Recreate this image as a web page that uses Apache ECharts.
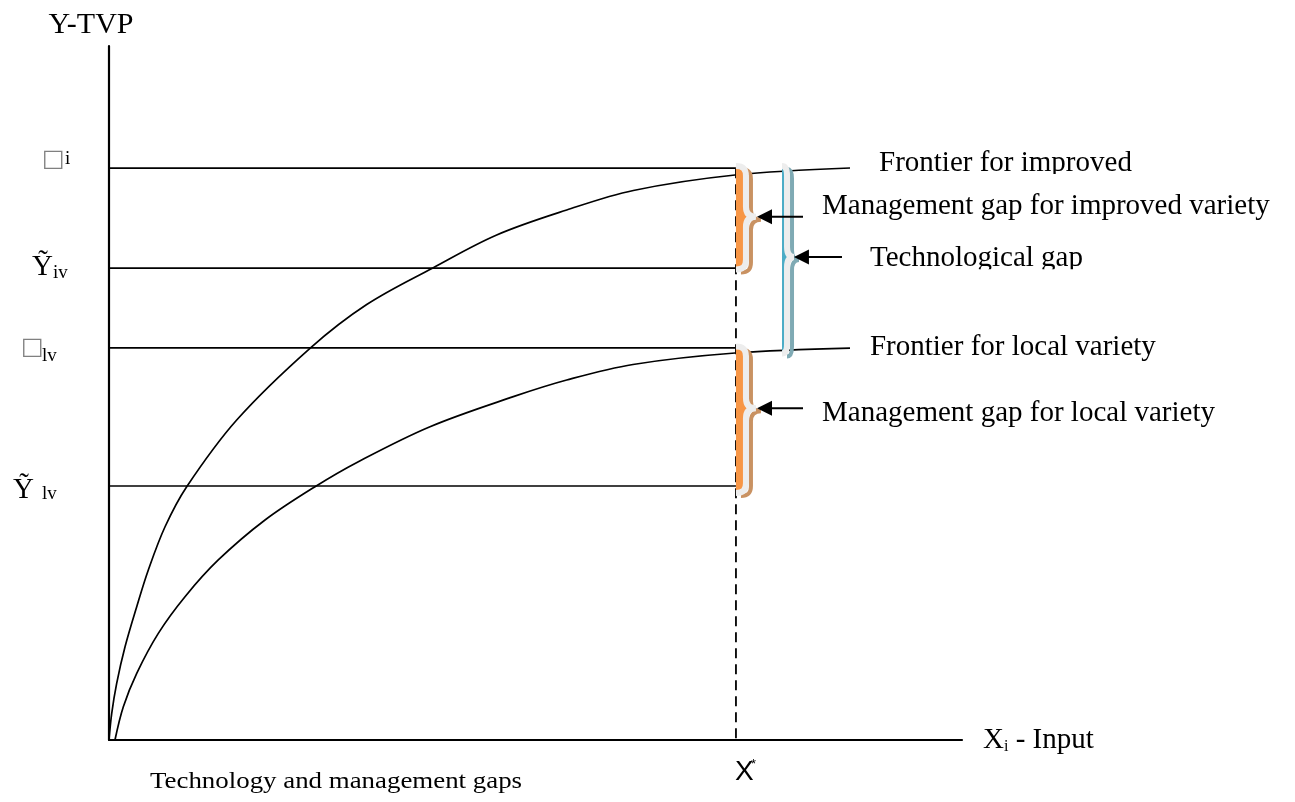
<!DOCTYPE html>
<html><head><meta charset="utf-8">
<script src="https://cdn.jsdelivr.net/npm/echarts@6/dist/echarts.min.js"></script>
<style>html,body{margin:0;padding:0;background:#fff}#c{width:1295px;height:802px}</style>
</head><body><div id="c"></div>
<script>
// ---- data (axis units: x 0..100, y 0..100) ----
const improvedX = [0, 0.32, 0.90, 1.88, 3.25, 4.61, 6.57, 9.11, 14.97, 23.56, 30.21, 38.02, 45.45, 53.66, 61.47, 73.39, 86.87];
const improvedY = [0, 3.85, 8.17, 13.44, 19.21, 24.50, 30.73, 36.50, 46.11, 56.44, 62.75, 68.06, 72.77, 76.37, 79.18, 81.41, 82.42];
const localX = [0.70, 1.68, 3.25, 5.78, 8.91, 12.81, 18.29, 24.15, 29.23, 37.63, 47.40, 53.66, 61.43, 73.39, 86.87];
const localY = [0, 4.80, 9.61, 15.37, 20.65, 25.94, 31.70, 36.50, 40.10, 45.14, 49.47, 51.87, 54.11, 55.76, 56.48];
const xStar = 73.5;
const levelValues = [82.4, 68.0, 56.5, 36.6];
const levelMain = ['\u25A1', '\u1EF8', '\u25A1', '\u1EF8'];
const levelSub = ['i', 'iv', 'lv', 'lv'];
const braceX = [73.5, 78.9, 73.5];
const braceTop = [82.7, 82.7, 56.7];
const braceBottom = [67.8, 55.7, 35.6];
const braceTip = [75.4, 69.6, 47.8];
const arrowFrom = [81.36, 85.93, 81.36];
const arrowTo = [75.97, 80.3, 75.97];
const arrowY = [75.4, 69.6, 47.8];
const noteText = ['Frontier for improved', 'Management gap for improved variety', 'Technological gap', 'Frontier for local variety', 'Management gap for local variety'];
const noteX = [90.27, 83.59, 89.21, 89.21, 83.59];
const noteY = [83.14, 76.95, 69.42, 56.63, 47.12];

// ---- styles ----
const SERIF = '"Liberation Serif", "Times New Roman", serif';
const SANS = '"Liberation Sans", Arial, sans-serif';
const labelStyle = [
  {mdx: -67, mdy: -8, sdx: -44, sdy: -9.4, box: true},
  {mdx: -77, mdy: -1, sdx: -56, sdy: 4.6, box: false},
  {mdx: -88, mdy: 0, sdx: -67, sdy: 8.6, box: true},
  {mdx: -96, mdy: 4, sdx: -67, sdy: 7.6, box: false}
];
const braceStyle = [
  {d: 10, w: 20, fill: '#F79646', shadow: '#C99262', sdx: 5, sdy: 3},
  {d: 5, w: 12, fill: '#4BACC6', shadow: '#7FAAB4', sdx: 5, sdy: 3},
  {d: 10, w: 20, fill: '#F79646', shadow: '#C99262', sdx: 5, sdy: 3}
];
const noteMask = [11, null, 11, null, null];

function bracePath(x0, top, bot, tip, d, w, r) {
  return 'M' + x0 + ',' + top +
    ' C' + (x0 + d * 0.7) + ',' + top + ' ' + (x0 + d) + ',' + (top + r * 0.3) + ' ' + (x0 + d) + ',' + (top + r) +
    ' L' + (x0 + d) + ',' + (tip - r) +
    ' Q' + (x0 + d) + ',' + tip + ' ' + (x0 + w) + ',' + tip +
    ' Q' + (x0 + d) + ',' + tip + ' ' + (x0 + d) + ',' + (tip + r) +
    ' L' + (x0 + d) + ',' + (bot - r) +
    ' C' + (x0 + d) + ',' + (bot - r * 0.3) + ' ' + (x0 + d * 0.7) + ',' + bot + ' ' + x0 + ',' + bot;
}

const chart = echarts.init(document.getElementById('c'));
const series = [];
levelValues.forEach(function (v) {
  series.push({type: 'line', data: [[0, v], [xStar, v]], symbol: 'none', silent: true,
    lineStyle: {color: '#000', width: 1.6}, z: 2});
});
series.push({type: 'line', data: [[xStar, levelValues[0]], [xStar, 0]], symbol: 'none', silent: true,
  lineStyle: {color: '#000', width: 1.8, type: [10, 6]}, z: 2});
series.push({type: 'line', name: 'Frontier for improved', data: improvedX.map(function (x, i) { return [x, improvedY[i]]; }),
  symbol: 'none', smooth: 0.35, silent: true, lineStyle: {color: '#000', width: 1.7}, z: 3});
series.push({type: 'line', name: 'Frontier for local variety', data: localX.map(function (x, i) { return [x, localY[i]]; }),
  symbol: 'none', smooth: 0.35, silent: true, lineStyle: {color: '#000', width: 1.7}, z: 3});

// braces
series.push({type: 'custom', z: 5, silent: true,
  data: braceX.map(function (x, i) { return [x, braceTop[i]]; }),
  renderItem: function (params, api) {
    const i = params.dataIndex, s = braceStyle[i];
    const pt = api.coord([braceX[i], braceTop[i]]);
    const pb = api.coord([braceX[i], braceBottom[i]]);
    const pp = api.coord([braceX[i], braceTip[i]]);
    const path = bracePath(pt[0], pt[1], pb[1], pp[1], s.d, s.w, 10);
    return {type: 'group', children: [
      {type: 'path', x: s.sdx, y: s.sdy, shape: {pathData: path}, style: {fill: null, stroke: s.shadow, lineWidth: 4}},
      {type: 'path', shape: {pathData: path + ' Z'}, style: {fill: s.fill, stroke: null}},
      {type: 'path', shape: {pathData: path}, style: {fill: null, stroke: '#EDEDED', lineWidth: 6}}
    ]};
  }
});
// arrows
series.push({type: 'custom', z: 6, silent: true,
  data: arrowY.map(function (y, i) { return [arrowFrom[i], y]; }),
  renderItem: function (params, api) {
    const i = params.dataIndex;
    const a = api.coord([arrowFrom[i], arrowY[i]]);
    const b = api.coord([arrowTo[i], arrowY[i]]);
    return {type: 'group', children: [
      {type: 'line', shape: {x1: a[0], y1: a[1], x2: b[0] + 12, y2: b[1]}, style: {stroke: '#000', lineWidth: 2}},
      {type: 'polygon', shape: {points: [[b[0], b[1]], [b[0] + 15, b[1] - 7.5], [b[0] + 15, b[1] + 7.5]]}, style: {fill: '#000'}}
    ]};
  }
});
// annotation texts
series.push({type: 'custom', z: 7, silent: true,
  data: noteX.map(function (x, i) { return [x, noteY[i]]; }),
  renderItem: function (params, api) {
    const i = params.dataIndex;
    const p = api.coord([noteX[i], noteY[i]]);
    const kids = [{type: 'text', x: p[0], y: p[1], style: {text: noteText[i], fill: '#000',
      font: '29px ' + SERIF, align: 'left', verticalAlign: 'middle'}}];
    if (noteMask[i] !== null) {
      kids.push({type: 'rect', shape: {x: p[0] - 4, y: p[1] + noteMask[i], width: 280, height: 10}, style: {fill: '#fff'}});
    }
    return {type: 'group', children: kids};
  }
});
// y level labels
series.push({type: 'custom', z: 7, silent: true,
  data: levelValues.map(function (v) { return [0, v]; }),
  renderItem: function (params, api) {
    const i = params.dataIndex, s = labelStyle[i];
    const p = api.coord([0, levelValues[i]]);
    return {type: 'group', children: [
      {type: 'text', x: p[0] + s.mdx, y: p[1] + s.mdy, style: {text: levelMain[i],
        fill: s.box ? '#808080' : '#000', font: (s.box ? '24px "DejaVu Sans"' : '29px ' + SERIF), align: 'left', verticalAlign: 'middle'}},
      {type: 'text', x: p[0] + s.sdx, y: p[1] + s.sdy, style: {text: levelSub[i], fill: '#000',
        font: '19px ' + SERIF, align: 'left', verticalAlign: 'middle'}}
    ]};
  }
});
// X* label
series.push({type: 'custom', z: 7, silent: true, data: [[xStar, 0]],
  renderItem: function (params, api) {
    const p = api.coord([xStar, 0]);
    return {type: 'group', children: [
      {type: 'text', x: p[0] - 1, y: p[1] + 32, style: {text: 'X', fill: '#000', font: '28px ' + SANS, align: 'left', verticalAlign: 'middle'}},
      {type: 'text', x: p[0] + 15, y: p[1] + 24, style: {text: '*', fill: '#000', font: '13px ' + SANS, align: 'left', verticalAlign: 'middle'}}
    ]};
  }
});

chart.setOption({
  animation: false,
  backgroundColor: '#fff',
  grid: {left: 109, top: 46, right: 333, bottom: 62, outerBoundsMode: 'none'},
  xAxis: {type: 'value', min: 0, max: 100, splitLine: {show: false}, axisTick: {show: false}, axisLabel: {show: false},
    axisLine: {show: true, onZero: false, lineStyle: {color: '#000', width: 2.2}},
    name: '{x|X}{s|i}{r| - Input}', nameLocation: 'end', nameGap: 21,
    nameTextStyle: {rich: {
      x: {fontFamily: SERIF, fontSize: 29, color: '#000'},
      s: {fontFamily: SERIF, fontSize: 16, color: '#000', padding: [14, 0, 0, 0]},
      r: {fontFamily: SERIF, fontSize: 29, color: '#000'}
    }}},
  yAxis: {type: 'value', min: 0, max: 100, splitLine: {show: false}, axisTick: {show: false}, axisLabel: {show: false},
    axisLine: {show: true, onZero: false, lineStyle: {color: '#000', width: 2.2}},
    name: 'Y-TVP', nameLocation: 'end', nameGap: 6,
    nameTextStyle: {fontFamily: SERIF, fontSize: 30, color: '#000', padding: [0, 36, 0, 0]}},
  graphic: [{type: 'text', left: 150, top: 770, scaleX: 1.12,
    style: {text: 'Technology and management gaps', fill: '#000', font: '24px ' + SERIF}}],
  series: series
});
</script></body></html>
